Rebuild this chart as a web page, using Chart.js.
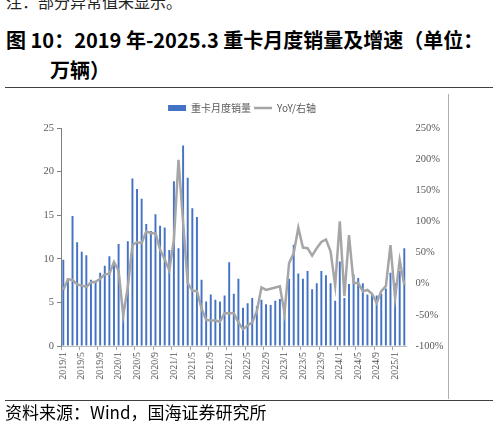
<!DOCTYPE html>
<html>
<head>
<meta charset="utf-8">
<script src="https://cdn.jsdelivr.net/npm/chart.js@4.4.1/dist/chart.umd.min.js"></script>
<style>
    body { margin: 0; width: 498px; height: 431px; background: #fff; position: relative; overflow: hidden; font-family: "Noto Sans CJK SC", sans-serif; }
    .txt { position: absolute; white-space: nowrap; color: #000; }
    .rule { position: absolute; left: 5px; width: 488px; height: 1px; background: #404040; }
    #wrap { position: absolute; left: 0; top: 100px; width: 498px; height: 300px; }
</style>
</head>
<body>
<div class="txt" style="left:6px; top:-7px; font-size:16px; line-height:16px; color:#222;">注：部分异常值未显示。</div>
<div class="txt" style="left:6px; top:30px; font-size:20px; line-height:20px; font-weight:700;">图 10：2019 年-2025.3 重卡月度销量及增速（单位：</div>
<div class="txt" style="left:50px; top:60px; font-size:20px; line-height:20px; font-weight:700;">万辆）</div>
<div class="rule" style="top:87px;"></div>
<div style="position:absolute; left:448px; top:94px; width:1px; height:305px; background:#b0b0b0;"></div>
<div id="wrap"><canvas id="myChart"></canvas></div>
<div class="rule" style="top:400px;"></div>
<div class="txt" style="left:5px; top:403px; font-size:17px; line-height:18px;">资料来源：Wind，国海证券研究所</div>

<script>
    // 2019/1 - 2025/3
    const categories = [];
    for (let y = 2019; y <= 2025; y++) {
        for (let m = 1; m <= 12; m++) {
            if (y === 2025 && m > 3) break;
            categories.push(y + '/' + m);
        }
    }

    // 重卡月度销量（万辆）
    const sales = [
        9.9, 7.8, 14.9, 11.9, 10.8, 10.4, 7.6, 7.4, 8.4, 9.2, 10.3, 9.3,
        11.7, 3.6, 12.0, 19.2, 18.0, 16.9, 14.0, 13.2, 15.1, 13.8, 13.6, 11.0,
        18.9, 11.2, 23.0, 19.3, 15.8, 14.8, 7.6, 5.1, 5.9, 5.3, 5.1, 5.8,
        9.6, 6.0, 7.7, 4.4, 4.9, 5.5, 4.6, 5.3, 4.8, 4.7, 5.2, 5.4,
        4.7, 7.7, 11.6, 8.3, 7.7, 8.6, 6.5, 7.2, 8.6, 8.1, 7.2, 5.2,
        9.7, 5.5, 7.1, 8.2, 7.8, 7.2, 5.9, 5.9, 5.8, 6.0, 6.6, 8.4,
        7.2, 8.6, 11.2
    ];

    // YoY（%，右轴）
    const yoy = [
        -10, 7, 6, -1, -3, -5, 2, 3, 8, 15, 16, 35,
        21, -51, -5, 62, 67, 65, 84, 81, 81, 55, 39, 22,
        70, 199, 98, 1, -11, -12, -40, -58, -59, -59, -61, -47,
        -48, -47, -62, -73, -67, -62, -44, -6, -10, -8, -6, -4,
        -47, 33, 49, 90, 58, 57, 45, 57, 67, 71, 52, -3,
        100, -20, 78, 1, 1, -12, -10, -16, -31, -12, -4, 62,
        -23, 38, -2
    ];

    const leftTicks = { min: 0, max: 25, step: 5 };
    const rightTicks = { min: -100, max: 250, step: 50 };

    const serif = "'Liberation Serif', 'Times New Roman', serif";
    const axisFont = { family: serif, size: 10.5 };
    const axisColor = '#595959';

    // legend a bit taller so the plot starts lower
    const legendGap = {
        id: 'legendGap',
        beforeInit(chart) {
            const fit = chart.legend.fit;
            chart.legend.fit = function () {
                fit.call(this);
                this.height += 5;
            };
        }
    };

    const ctx = document.getElementById('myChart').getContext('2d');
    new Chart(ctx, {
        type: 'bar',
        data: {
            labels: categories,
            datasets: [{
                label: '重卡月度销量',
                data: sales,
                backgroundColor: '#4472C4',
                barPercentage: 0.42,
                categoryPercentage: 1,
                yAxisID: 'y',
                order: 1,
                pointStyle: 'rect'
            }, {
                type: 'line',
                label: 'YoY/右轴',
                data: yoy,
                borderColor: '#A6A6A6',
                backgroundColor: '#A6A6A6',
                borderWidth: 2.5,
                pointRadius: 0,
                tension: 0,
                yAxisID: 'y1',
                order: 0,
                pointStyle: 'line'
            }]
        },
        plugins: [legendGap],
        options: {
            responsive: true,
            maintainAspectRatio: false,
            animation: false,
            layout: { padding: { left: 0, right: 14, top: 0, bottom: 0 } },
            plugins: {
                tooltip: { enabled: false },
                legend: {
                    position: 'top',
                    labels: {
                        usePointStyle: true,
                        pointStyleWidth: 18,
                        boxHeight: 6,
                        padding: 3,
                        color: axisColor,
                        font: { family: 'Noto Sans CJK SC', size: 10 },
                        sort: (a, b) => a.datasetIndex - b.datasetIndex
                    }
                }
            },
            scales: {
                x: {
                    offset: true,
                    grid: {
                        offset: true,
                        drawOnChartArea: false,
                        tickLength: 4,
                        color: c => (c.index % 4 === 0 ? '#a6a6a6' : 'rgba(0,0,0,0)')
                    },
                    border: { color: '#bfbfbf' },
                    ticks: {
                        autoSkip: false,
                        minRotation: 90,
                        maxRotation: 90,
                        padding: 2,
                        color: axisColor,
                        font: { family: serif, size: 10 },
                        callback: (v, i) => (i % 4 === 0 ? categories[i] : '')
                    },
                    afterFit: s => { s.height = 54; }
                },
                y: {
                    position: 'left',
                    min: leftTicks.min,
                    max: leftTicks.max,
                    ticks: { stepSize: leftTicks.step, color: axisColor, font: axisFont, padding: 3 },
                    grid: { drawOnChartArea: false, tickLength: 4, color: '#7f7f7f' },
                    border: { color: '#7f7f7f' },
                    afterFit: s => { s.width = 61; }
                },
                y1: {
                    position: 'right',
                    min: rightTicks.min,
                    max: rightTicks.max,
                    ticks: {
                        stepSize: rightTicks.step,
                        color: axisColor,
                        font: axisFont,
                        padding: 1,
                        callback: v => v + '%'
                    },
                    grid: { display: false },
                    border: { display: false },
                    afterFit: s => { s.width = 77.4; }
                }
            }
        }
    });
</script>
</body>
</html>
